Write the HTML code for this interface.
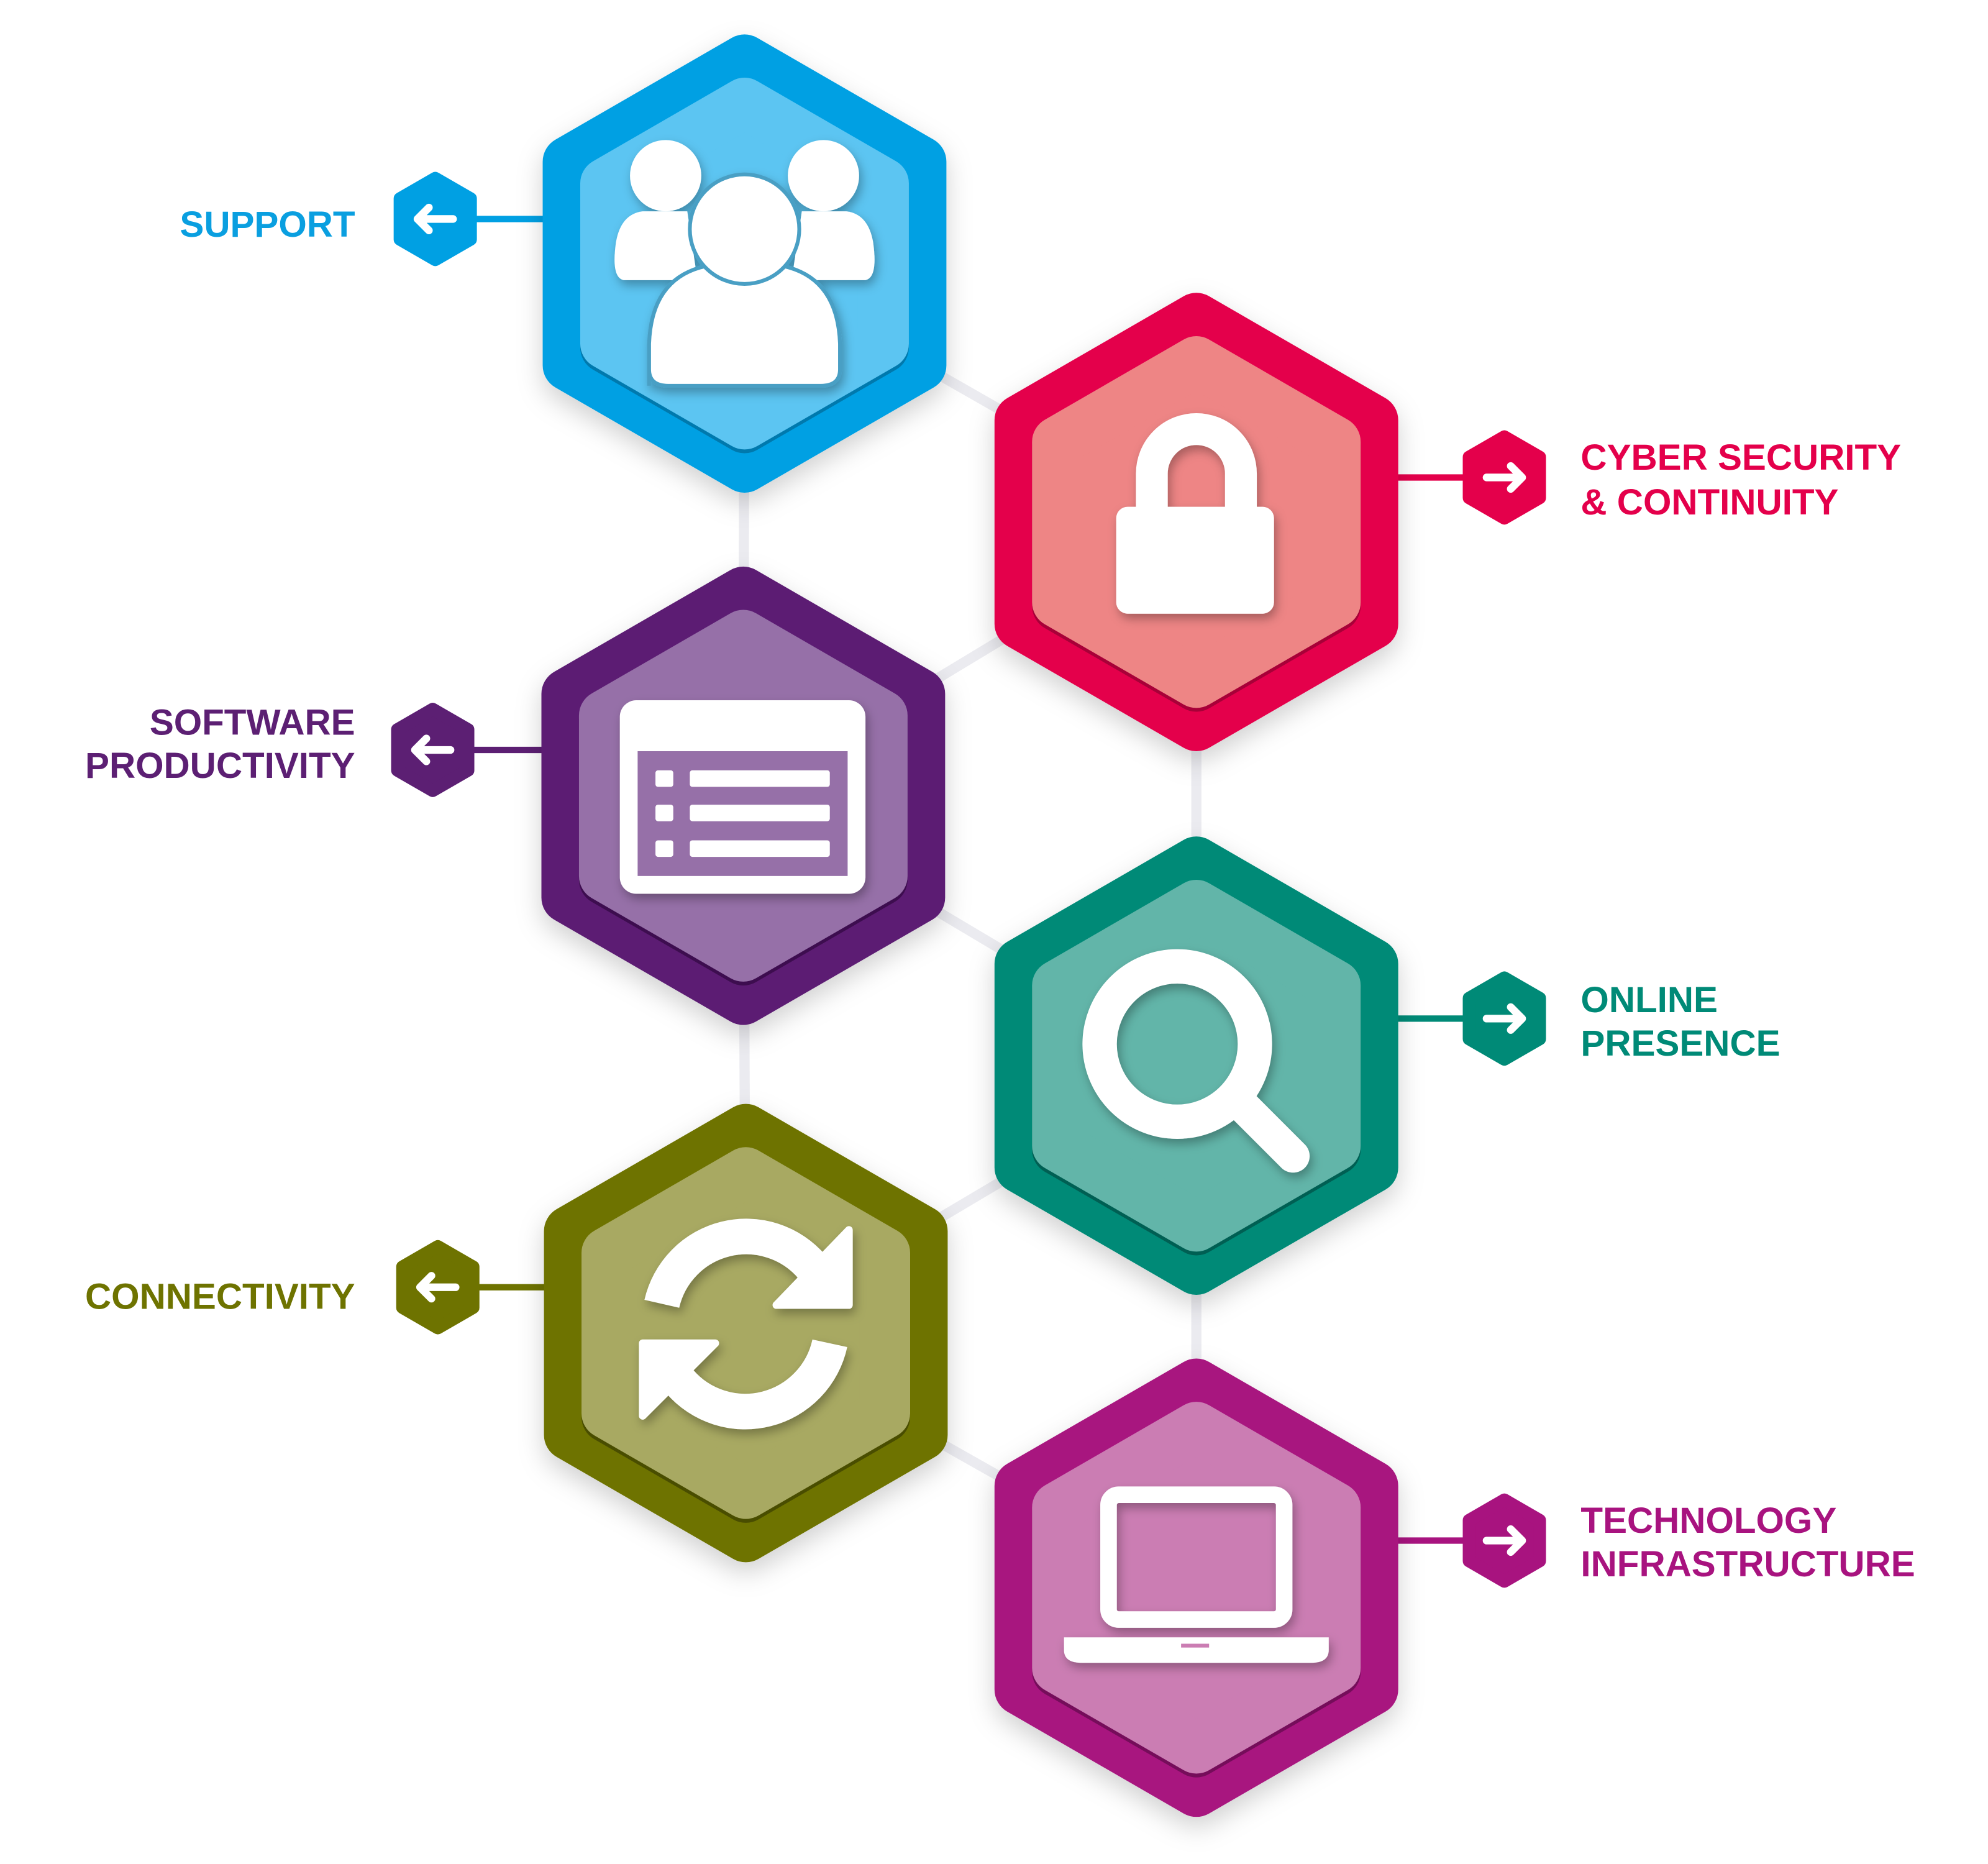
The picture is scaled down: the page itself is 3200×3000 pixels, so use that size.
<!DOCTYPE html>
<html><head><meta charset="utf-8"><style>
html,body{margin:0;padding:0;background:#fff;}
svg{display:block;}
text{font-family:"Liberation Sans",sans-serif;font-weight:bold;font-size:28.5px;}
</style></head><body>
<svg width="3200" height="3000" viewBox="0 0 1562 1464" preserveAspectRatio="none" xmlns="http://www.w3.org/2000/svg">
<defs>
<filter id="sh" x="-30%" y="-30%" width="160%" height="160%"><feDropShadow dx="0" dy="8" stdDeviation="10" flood-color="#000" flood-opacity="0.18"/></filter>
<filter id="is" x="-30%" y="-30%" width="160%" height="160%"><feDropShadow dx="2" dy="4" stdDeviation="4" flood-color="#000" flood-opacity="0.3"/></filter>
<polygon id="o" points="0,-160 138.6,-80 138.6,80 0,160 -138.6,80 -138.6,-80" stroke-width="40" stroke-linejoin="round"/>
<polygon id="i" points="0,-126 109.1,-63 109.1,63 0,126 -109.1,63 -109.1,-63" stroke-width="40" stroke-linejoin="round"/>
</defs>
<g stroke="#ebebf0" stroke-width="8">
<line x1="585" y1="207" x2="940" y2="410"/><line x1="585" y1="207" x2="584" y2="625"/>
<line x1="940" y1="410" x2="584" y2="625"/><line x1="940" y1="410" x2="940" y2="837"/>
<line x1="584" y1="625" x2="940" y2="837"/><line x1="584" y1="625" x2="586" y2="1047"/>
<line x1="940" y1="837" x2="586" y2="1047"/><line x1="940" y1="837" x2="940" y2="1247"/>
<line x1="586" y1="1047" x2="940" y2="1247"/>
</g>

<g stroke-width="5">
<line x1="342" y1="172" x2="430" y2="172" stroke="#00a0e3"/>
<line x1="1090" y1="375" x2="1182" y2="375" stroke="#e4004b"/>
<line x1="340" y1="589" x2="430" y2="589" stroke="#5c1f73"/>
<line x1="1090" y1="800" x2="1182" y2="800" stroke="#008a77"/>
<line x1="344" y1="1011" x2="432" y2="1011" stroke="#6e7300"/>
<line x1="1090" y1="1210" x2="1182" y2="1210" stroke="#a8137f"/>
</g>

<g stroke-linejoin="round" stroke-width="10">
<g transform="translate(342,172)"><polygon points="0,-32 27.7,-16 27.7,16 0,32 -27.7,16 -27.7,-16" fill="#00a0e3" stroke="#00a0e3"/><path d="M14,0 H-14 M-5,-9 L-14,0 L-5,9" stroke="#fff" stroke-width="6" fill="none" stroke-linecap="round"/></g>
<g transform="translate(1182,375)"><polygon points="0,-32 27.7,-16 27.7,16 0,32 -27.7,16 -27.7,-16" fill="#e4004b" stroke="#e4004b"/><path d="M-14,0 H14 M5,-9 L14,0 L5,9" stroke="#fff" stroke-width="6" fill="none" stroke-linecap="round"/></g>
<g transform="translate(340,589)"><polygon points="0,-32 27.7,-16 27.7,16 0,32 -27.7,16 -27.7,-16" fill="#5c1f73" stroke="#5c1f73"/><path d="M14,0 H-14 M-5,-9 L-14,0 L-5,9" stroke="#fff" stroke-width="6" fill="none" stroke-linecap="round"/></g>
<g transform="translate(1182,800)"><polygon points="0,-32 27.7,-16 27.7,16 0,32 -27.7,16 -27.7,-16" fill="#008a77" stroke="#008a77"/><path d="M-14,0 H14 M5,-9 L14,0 L5,9" stroke="#fff" stroke-width="6" fill="none" stroke-linecap="round"/></g>
<g transform="translate(344,1011)"><polygon points="0,-32 27.7,-16 27.7,16 0,32 -27.7,16 -27.7,-16" fill="#6e7300" stroke="#6e7300"/><path d="M14,0 H-14 M-5,-9 L-14,0 L-5,9" stroke="#fff" stroke-width="6" fill="none" stroke-linecap="round"/></g>
<g transform="translate(1182,1210)"><polygon points="0,-32 27.7,-16 27.7,16 0,32 -27.7,16 -27.7,-16" fill="#a8137f" stroke="#a8137f"/><path d="M-14,0 H14 M5,-9 L14,0 L5,9" stroke="#fff" stroke-width="6" fill="none" stroke-linecap="round"/></g>
</g>

<g transform="translate(585,207)" filter="url(#sh)"><use href="#o" fill="#00a0e3" stroke="#00a0e3"/><use href="#i" y="3" fill="#0079ad" stroke="#0079ad"/><use href="#i" fill="#5bc5f2" stroke="#5bc5f2"/></g>
<g transform="translate(940,410)" filter="url(#sh)"><use href="#o" fill="#e4004b" stroke="#e4004b"/><use href="#i" y="3" fill="#a80037" stroke="#a80037"/><use href="#i" fill="#ee8585" stroke="#ee8585"/></g>
<g transform="translate(584,625)" filter="url(#sh)"><use href="#o" fill="#5c1f73" stroke="#5c1f73"/><use href="#i" y="3" fill="#3e0f50" stroke="#3e0f50"/><use href="#i" fill="#9670a8" stroke="#9670a8"/></g>
<g transform="translate(940,837)" filter="url(#sh)"><use href="#o" fill="#008a77" stroke="#008a77"/><use href="#i" y="3" fill="#005f52" stroke="#005f52"/><use href="#i" fill="#62b5a9" stroke="#62b5a9"/></g>
<g transform="translate(586,1047)" filter="url(#sh)"><use href="#o" fill="#6e7300" stroke="#6e7300"/><use href="#i" y="3" fill="#4a4d00" stroke="#4a4d00"/><use href="#i" fill="#a8a962" stroke="#a8a962"/></g>
<g transform="translate(940,1247)" filter="url(#sh)"><use href="#o" fill="#a8137f" stroke="#a8137f"/><use href="#i" y="3" fill="#75085a" stroke="#75085a"/><use href="#i" fill="#cb7db3" stroke="#cb7db3"/></g>

<g fill="#fff" filter="url(#is)">
<circle cx="523" cy="138" r="28"/><circle cx="647" cy="138" r="28"/>
<path d="M490,220 Q480,218 484,190 Q488,168 505,166 L540,166 L548,220 Z"/>
<path d="M680,220 Q690,218 686,190 Q682,168 665,166 L630,166 L622,220 Z"/>
<path d="M510,303 L510,270 Q512,215 560,208 L610,208 Q658,215 660,270 L660,290 Q660,303 645,303 L525,303 Q510,303 510,290 Z" stroke="#4a9fc4" stroke-width="3"/>
<circle cx="585" cy="180" r="43" stroke="#4a9fc4" stroke-width="3"/>
<path d="M905,400 V372 A35,35 0 0 1 975,372 V400" fill="none" stroke="#fff" stroke-width="25"/>
<rect x="877" y="398" width="124" height="84" rx="9"/>
<rect x="487" y="550" width="193" height="152" rx="13"/>
<rect x="501" y="590" width="165" height="98" fill="#9670a8"/>
<rect x="515" y="605" width="14" height="13" rx="2"/><rect x="515" y="632" width="14" height="13" rx="2"/><rect x="515" y="660" width="14" height="13" rx="2"/>
<rect x="542" y="605" width="110" height="13" rx="2"/><rect x="542" y="632" width="110" height="13" rx="2"/><rect x="542" y="660" width="110" height="13" rx="2"/>
<circle cx="925" cy="820" r="61" fill="none" stroke="#fff" stroke-width="27"/>
<line x1="978" y1="870" x2="1016" y2="908" stroke="#fff" stroke-width="26" stroke-linecap="round"/>
<path d="M520,1024 A68,68 0 0 1 638,995" fill="none" stroke="#fff" stroke-width="28"/>
<path d="M610,1025 L667,1025 L667,966 Z" stroke="#fff" stroke-width="6" stroke-linejoin="round"/>
<path d="M652,1055 A68,68 0 0 1 534,1085" fill="none" stroke="#fff" stroke-width="28"/>
<path d="M562,1055 L505,1055 L505,1112 Z" stroke="#fff" stroke-width="6" stroke-linejoin="round"/>
<rect x="871" y="1174" width="138" height="98" rx="8" fill="none" stroke="#fff" stroke-width="13"/>
<path d="M836,1286 H1044 V1296 Q1044,1306 1030,1306 H850 Q836,1306 836,1296 Z"/>
</g>
<rect x="928" y="1291" width="22" height="3" fill="#cb7db3"/>

<text x="279" y="186" text-anchor="end" fill="#0a9fe0">SUPPORT</text>
<text x="1242" y="369" fill="#e4004b">CYBER SECURITY</text>
<text x="1242" y="404" fill="#e4004b">&amp; CONTINUITY</text>
<text x="279" y="577" text-anchor="end" fill="#5c1f73">SOFTWARE</text>
<text x="279" y="611" text-anchor="end" fill="#5c1f73">PRODUCTIVITY</text>
<text x="1242" y="795" fill="#008a77">ONLINE</text>
<text x="1242" y="829" fill="#008a77">PRESENCE</text>
<text x="279" y="1028" text-anchor="end" fill="#6e7300">CONNECTIVITY</text>
<text x="1242" y="1204" fill="#a8137f">TECHNOLOGY</text>
<text x="1242" y="1238" fill="#a8137f">INFRASTRUCTURE</text>
</svg>
</body></html>
